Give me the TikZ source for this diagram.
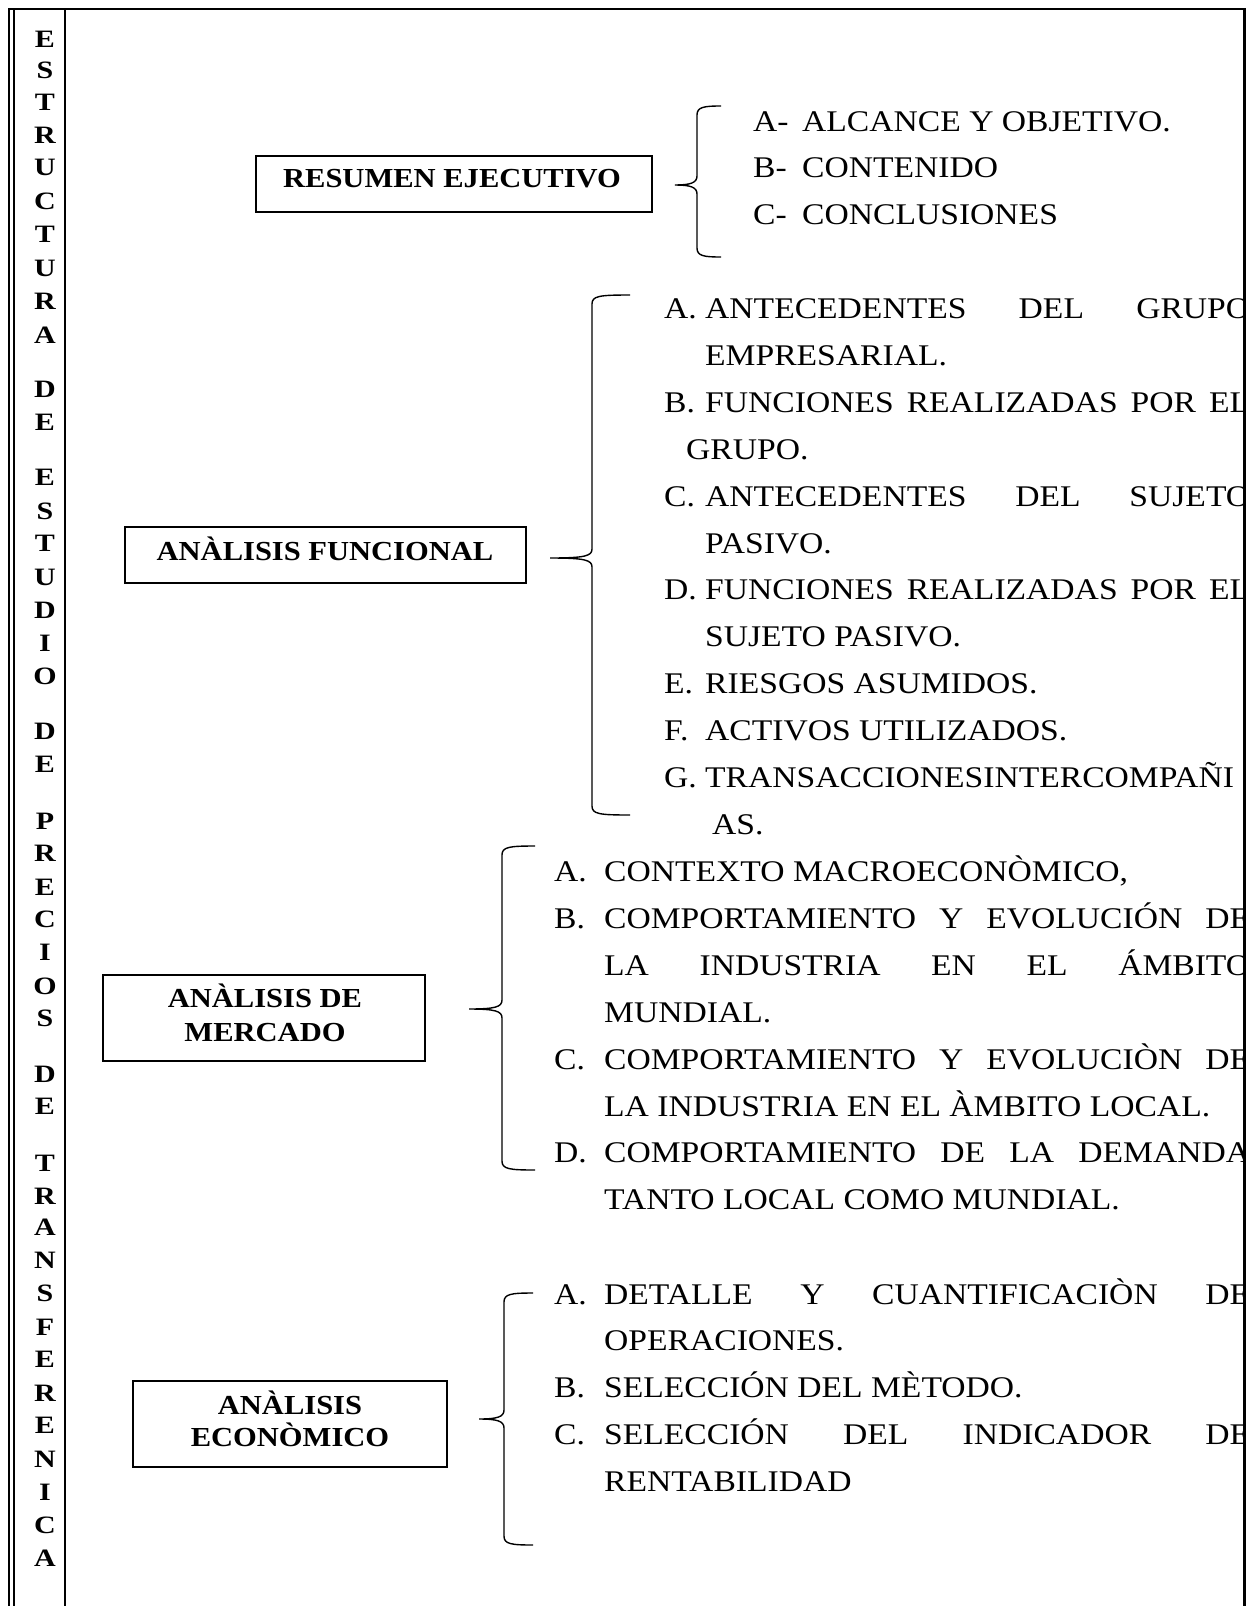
\documentclass[tikz,border=0pt]{standalone}
\usepackage{fontspec}
\setmainfont{Liberation Serif}
\newfontfamily\regf[FakeStretch=1.12]{Liberation Serif}
\newfontfamily\boxf[FakeStretch=1.11]{Liberation Serif}
\newfontfamily\colf[FakeStretch=1.2]{Liberation Serif}
\newcommand\mybrace[6]{%
 \draw[brc] (#1,#3) .. controls (#2+7,#3) and (#2,#3+1) .. (#2,#3+9) -- (#2,#5-9)
   .. controls (#2,#5-2) and (#2-7,#5) .. (#4,#5)
   .. controls (#2-7,#5) and (#2,#5+2) .. (#2,#5+9) -- (#2,#6-9)
   .. controls (#2,#6-1) and (#2+7,#6) .. (#1,#6);}
\newcommand\jl[2]{\makebox[#1pt][s]{#2}}
\begin{document}
\begin{tikzpicture}[x=1pt,y=-1pt,
  frameline/.style={line width=2.3pt},
  lbox/.style={draw, line width=2pt, rectangle},
  lbl/.style={anchor=base, inner sep=0pt, font=\boxf\bfseries\fontsize{27.5}{27.5}\selectfont},
  itm/.style={anchor=base west, inner sep=0pt, font=\regf\fontsize{30}{30}\selectfont},
  colletter/.style={anchor=base, inner sep=0pt, font=\colf\bfseries\fontsize{25}{25}\selectfont},
  brc/.style={line width=1.4pt}]
\useasboundingbox (0,0) rectangle (1256,1606);
\fill[white] (0,0) rectangle (1256,1606);

% column letters
\foreach \l/\yy [count=\i] in {E/47.5,S/78.5,T/110.5,R/143.5,U/175.5,C/209.5,T/242.5,U/276.5,R/309.5,A/343.5,
  D/397.5,E/430.5,
  E/485.5,S/519.5,T/551.5,U/585.5,D/618.5,I/651.5,O/684.5,
  D/739.5,E/772.5,
  P/829.5,R/861.5,E/895.5,C/927.5,I/960.5,O/994.5,S/1026.5,
  D/1082.5,E/1114.5,
  T/1171.5,R/1204.5,A/1235.5,N/1268.5,S/1301.5,F/1335.5,E/1367.5,R/1401.5,E/1433.5,N/1467.5,I/1500.5,C/1533.5,A/1566.5}
  \node[colletter] (col\i) at (45,\yy) {\l};

% boxes
\draw[lbox] (256,156) rectangle (652,212);
\node[lbl] (t1) at (452,187) {RESUMEN EJECUTIVO};
\draw[lbox] (125,527) rectangle (526,583);
\node[lbl] (t2) at (325,560) {ANÀLISIS FUNCIONAL};
\draw[lbox] (103,975) rectangle (425,1061);
\node[lbl] (t3a) at (265,1007.5) {ANÀLISIS DE};
\node[lbl] (t3b) at (265,1041.5) {MERCADO};
\draw[lbox] (133,1381) rectangle (447,1467);
\node[lbl] (t4a) at (290,1414.5) {ANÀLISIS};
\node[lbl] (t4b) at (290,1446.5) {ECONÒMICO};

% braces
\mybrace{721}{697}{106}{675}{185}{257}
\mybrace{630}{592}{295}{550}{558}{815}
\mybrace{535}{502}{846}{469}{1009}{1170}
\mybrace{533}{504}{1293}{479}{1419}{1545}

\begin{scope}
\clip (66,0) rectangle (1243,1606);
% list 1
\node[itm] (a1l) at (753,131.5) {A-};
\node[itm] (a1t) at (802,131.5) {ALCANCE Y OBJETIVO.};
\node[itm] (b1l) at (753,177.5) {B-};
\node[itm] (b1t) at (802,177.5) {CONTENIDO};
\node[itm] (c1l) at (753,224.5) {C-};
\node[itm] (c1t) at (802,224.5) {CONCLUSIONES};
% list 2
\node[itm] (a2l) at (664,318.5) {A.};
\node[itm] (a2t) at (705,318.5) {\jl{545}{ANTECEDENTES DEL GRUPO}};
\node[itm] (a2u) at (705,365.5) {EMPRESARIAL.};
\node[itm] (b2l) at (664,412.5) {B.};
\node[itm] (b2t) at (705,412.5) {\jl{545}{FUNCIONES REALIZADAS POR EL}};
\node[itm] (b2u) at (686,459.5) {GRUPO.};
\node[itm] (c2l) at (664,506.5) {C.};
\node[itm] (c2t) at (705,506.5) {\jl{545}{ANTECEDENTES DEL SUJETO}};
\node[itm] (c2u) at (705,553.5) {PASIVO.};
\node[itm] (d2l) at (664,599.5) {D.};
\node[itm] (d2t) at (705,599.5) {\jl{545}{FUNCIONES REALIZADAS POR EL}};
\node[itm] (d2u) at (705,646.5) {SUJETO PASIVO.};
\node[itm] (e2l) at (664,693.5) {E.};
\node[itm] (e2t) at (705,693.5) {RIESGOS ASUMIDOS.};
\node[itm] (f2l) at (664,740.5) {F.};
\node[itm] (f2t) at (705,740.5) {ACTIVOS UTILIZADOS.};
\node[itm] (g2l) at (664,787.5) {G.};
\node[itm] (g2t) at (705,787.5) {TRANSACCIONESINTERCOMPAÑI};
\node[itm] (g2u) at (712,834.5) {AS.};
% list 3
\node[itm] (a3l) at (554,881.5) {A.};
\node[itm] (a3t) at (604,881.5) {CONTEXTO MACROECONÒMICO,};
\node[itm] (b3l) at (554,928.5) {B.};
\node[itm] (b3t) at (604,928.5) {\jl{646}{COMPORTAMIENTO Y EVOLUCIÓN DE}};
\node[itm] (b3u) at (604,975.5) {\jl{646}{LA INDUSTRIA EN EL ÁMBITO}};
\node[itm] (b3v) at (604,1022.5) {MUNDIAL.};
\node[itm] (c3l) at (554,1069.5) {C.};
\node[itm] (c3t) at (604,1069.5) {\jl{646}{COMPORTAMIENTO Y EVOLUCIÒN DE}};
\node[itm] (c3u) at (604,1116.5) {LA INDUSTRIA EN EL ÀMBITO LOCAL.};
\node[itm] (d3l) at (554,1162.5) {D.};
\node[itm] (d3t) at (604,1162.5) {\jl{646}{COMPORTAMIENTO DE LA DEMANDA}};
\node[itm] (d3u) at (604,1209.5) {TANTO LOCAL COMO MUNDIAL.};
% list 4
\node[itm] (a4l) at (554,1304.5) {A.};
\node[itm] (a4t) at (604,1304.5) {\jl{646}{DETALLE Y CUANTIFICACIÒN DE}};
\node[itm] (a4u) at (604,1350.5) {OPERACIONES.};
\node[itm] (b4l) at (554,1397.5) {B.};
\node[itm] (b4t) at (604,1397.5) {SELECCIÓN DEL MÈTODO.};
\node[itm] (c4l) at (554,1444.5) {C.};
\node[itm] (c4t) at (604,1444.5) {\jl{646}{SELECCIÓN DEL INDICADOR DE}};
\node[itm] (c4u) at (604,1491.5) {RENTABILIDAD};
\end{scope}

% frame
\draw[frameline] (8,8.8) -- (1245.5,8.8);
\draw[line width=2pt] (9.3,8) -- (9.3,1606);
\draw[line width=2pt] (14.3,9) -- (14.3,1606);
\draw[line width=2pt] (65.3,9) -- (65.3,1606);
\draw[frameline] (1244.5,8) -- (1244.5,1606);
\end{tikzpicture}
\end{document}
